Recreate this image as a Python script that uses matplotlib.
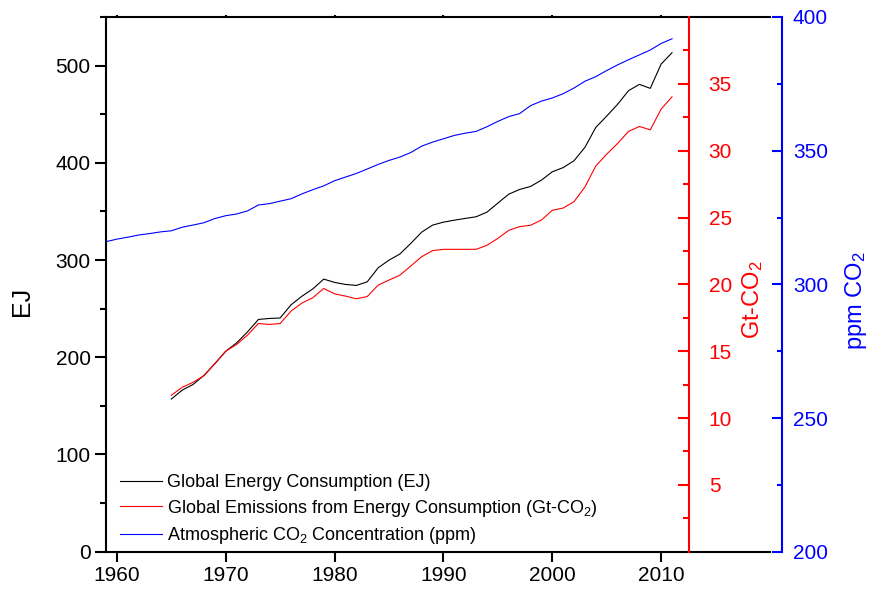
import matplotlib
matplotlib.use("Agg")
import matplotlib.pyplot as plt
from matplotlib.ticker import MultipleLocator, FixedLocator

plt.rcParams['font.family'] = ['Liberation Sans', 'DejaVu Sans']
plt.rcParams['mathtext.fontset'] = 'custom'
plt.rcParams['mathtext.rm'] = 'Liberation Sans'
plt.rcParams['mathtext.it'] = 'Liberation Sans:italic'

# Global primary energy consumption (EJ), 1965-2011
energy_years = list(range(1965, 2012))
energy_ej = [157.0, 166.2, 172.0, 181.4, 193.4, 206.2, 214.8, 226.1, 238.9, 239.9,
             240.4, 254.0, 262.8, 270.3, 280.4, 277.0, 274.9, 273.9, 277.6, 292.0,
             299.9, 306.2, 317.1, 328.7, 335.9, 339.0, 341.0, 342.8, 344.5, 349.3,
             358.6, 367.8, 372.6, 375.7, 382.2, 390.8, 395.1, 402.2, 416.0, 436.5,
             448.1, 460.2, 474.2, 480.7, 476.6, 501.6, 513.3]

# CO2 emissions from energy consumption (Gt-CO2), 1965-2011
emission_gt = [11.7, 12.3, 12.67, 13.17, 14.07, 15.0, 15.5, 16.2, 17.07, 17.0,
               17.07, 18.0, 18.6, 19.0, 19.69, 19.29, 19.12, 18.92, 19.09, 19.94,
               20.32, 20.69, 21.37, 22.07, 22.52, 22.62, 22.62, 22.62, 22.62, 22.92,
               23.44, 24.04, 24.32, 24.42, 24.81, 25.54, 25.71, 26.19, 27.29, 28.86,
               29.74, 30.54, 31.44, 31.81, 31.56, 33.11, 34.03]

# Mauna Loa annual mean CO2 (ppm), 1959-2011
co2_years = list(range(1959, 2012))
co2_ppm = [315.97, 316.91, 317.64, 318.45, 318.99, 319.62, 320.04, 321.37, 322.18, 323.05,
           324.62, 325.68, 326.32, 327.46, 329.68, 330.19, 331.12, 332.03, 333.84, 335.41,
           336.84, 338.76, 340.12, 341.48, 343.15, 344.85, 346.35, 347.61, 349.31, 351.69,
           353.20, 354.45, 355.70, 356.54, 357.21, 358.96, 360.97, 362.74, 363.88, 366.84,
           368.54, 369.71, 371.32, 373.45, 375.98, 377.70, 379.98, 382.09, 384.02, 385.83,
           387.64, 390.10, 391.85]

x_ticks = [1960, 1970, 1980, 1990, 2000, 2010]
ej_ticks = [0, 100, 200, 300, 400, 500]
gt_ticks = [5, 10, 15, 20, 25, 30, 35]
ppm_ticks = [200, 250, 300, 350, 400]

fig = plt.figure(figsize=(8.75, 5.91), dpi=100)
ax = fig.add_axes([106 / 875, 1 - 551.7 / 591, 664 / 875, 534.7 / 591])
ax_gt = ax.twinx()
ax_ppm = ax.twinx()

l1, = ax.plot(energy_years, energy_ej, color='black', lw=0.8,
              label='Global Energy Consumption (EJ)')
l2, = ax_gt.plot(energy_years, emission_gt, color='red', lw=0.8,
                 label=r'Global Emissions from Energy Consumption (Gt-CO$\mathregular{_2}$)')
l3, = ax_ppm.plot(co2_years, co2_ppm, color='blue', lw=0.8,
                  label=r'Atmospheric CO$\mathregular{_2}$ Concentration (ppm)')

# main axes: EJ on the left
ax.set_xlim(1959, 2020)
ax.set_ylim(0, 550)
ax.set_xticks(x_ticks)
ax.set_yticks(ej_ticks)
ax.yaxis.set_minor_locator(MultipleLocator(50))
for s in ['left', 'bottom', 'top']:
    ax.spines[s].set_linewidth(1.5)
ax.spines['right'].set_visible(False)
ax.tick_params(axis='y', which='major', direction='out', length=8, width=1.5, labelsize=15, pad=3)
ax.tick_params(axis='y', which='minor', direction='out', length=4.3, width=1.5)
ax.tick_params(axis='x', which='major', direction='out', length=7, width=1.5, labelsize=15,
               top=True, pad=3)
for t in ax.xaxis.get_major_ticks():
    t.tick2line.set_markersize(1.5)

# emissions axis, drawn inside the plot area
ax_gt.set_ylim(0, 40)
ax_gt.yaxis.set_major_locator(FixedLocator(gt_ticks))
ax_gt.yaxis.set_minor_locator(FixedLocator([2.5 + 5 * i for i in range(8)]))
ax_gt.spines['right'].set_position(('axes', 583.3 / 664))
ax_gt.spines['right'].set_color('red')
ax_gt.spines['right'].set_linewidth(1.5)
for s in ['left', 'top', 'bottom']:
    ax_gt.spines[s].set_visible(False)
ax_gt.tick_params(axis='y', which='major', direction='in', length=8, width=1.5,
                  colors='red', labelsize=15, pad=14)
ax_gt.tick_params(axis='y', which='minor', direction='in', length=4.3, width=1.5, colors='red')

# CO2 concentration axis on the far right
ax_ppm.set_ylim(200, 400)
ax_ppm.set_yticks(ppm_ticks)
ax_ppm.yaxis.set_minor_locator(MultipleLocator(25))
ax_ppm.spines['right'].set_position(('outward', 8.4))
ax_ppm.spines['right'].set_color('blue')
ax_ppm.spines['right'].set_linewidth(1.5)
for s in ['left', 'top', 'bottom']:
    ax_ppm.spines[s].set_visible(False)
ax_ppm.tick_params(axis='y', which='major', direction='in', length=7.2, width=1.5,
                   colors='blue', labelsize=15, pad=8)
ax_ppm.tick_params(axis='y', which='minor', direction='in', length=3.6, width=1.5, colors='blue')

# axis titles
fig.text(22 / 875, 1 - 301 / 591, 'EJ', rotation=90, ha='center', va='center', fontsize=18)
fig.text(753 / 875, 1 - 300 / 591, r'Gt-CO$\mathregular{_2}$', rotation=90, ha='center',
         va='center', fontsize=17, color='red')
fig.text(856 / 875, 1 - 301 / 591, r'ppm CO$\mathregular{_2}$', rotation=90, ha='center',
         va='center', fontsize=17, color='blue')

ax_ppm.legend(handles=[l1, l2, l3], loc='upper left', bbox_to_anchor=(120 / 875, 1 - 474 / 591),
              bbox_transform=fig.transFigure, frameon=False, fontsize=13, borderpad=0,
              borderaxespad=0, handlelength=2.3, handletextpad=0.3, labelspacing=0.37)

fig.savefig('out.png', dpi=100)
